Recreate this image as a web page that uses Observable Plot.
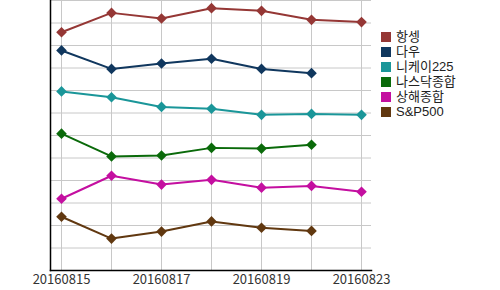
<!DOCTYPE html>
<html><head><meta charset="utf-8">
<script src="https://cdn.jsdelivr.net/npm/d3@7"></script>
<script src="https://cdn.jsdelivr.net/npm/@observablehq/plot@0.6"></script>
<style>
body{margin:0;background:#fff;font-family:"Noto Sans CJK KR","Noto Sans",sans-serif;}
#wrap{position:relative;width:500px;height:290px;}
#legend{position:absolute;left:381px;top:29px;font-size:13px;color:#222;line-height:15px;font-family:"Liberation Sans","Noto Sans CJK KR",sans-serif;}
#legend .it{display:flex;align-items:center;height:15px;}
#legend .sw{width:10px;height:10px;margin-right:5px;flex:none;}
#legend span{line-height:15px;display:inline-block;height:15px;}
</style></head>
<body><div id="wrap"><div id="chart"></div><div id="legend"></div></div>
<script>
const dates = ["20160815","20160816","20160817","20160818","20160819","20160822","20160823"];
const tickLabels = ["20160815","20160817","20160819","20160823"];
const seriesNames = ["항셍","다우","니케이225","나스닥종합","상해종합","S&P500"];
const colors = ["#953735","#10375E","#1A9699","#0A6A0A","#C40FA0","#613810"];
const hangseng = [10.59, 11.45, 11.2, 11.66, 11.54, 11.14, 11.04];
const dow = [9.78, 8.96, 9.2, 9.41, 8.96, 8.77];
const nikkei = [7.96, 7.70, 7.27, 7.19, 6.92, 6.96, 6.92];
const nasdaq = [6.08, 5.07, 5.11, 5.45, 5.42, 5.59];
const shanghai = [3.19, 4.21, 3.82, 4.03, 3.68, 3.76, 3.50];
const sp500 = [2.39, 1.42, 1.73, 2.18, 1.90, 1.76];
const yTicks = d3.range(0, 13);

const all = [hangseng, dow, nikkei, nasdaq, shanghai, sp500];
const data = [];
all.forEach((arr, si) => arr.forEach((v, i) => data.push({series: seriesNames[si], date: dates[i], value: v})));

const chart = Plot.plot({
  width: 500, height: 290,
  marginLeft: 50, marginRight: 129, marginTop: 0, marginBottom: 20,
  style: {fontFamily: "'Noto Sans CJK KR','Noto Sans',sans-serif", fontSize: "13px", color: "#333", background: "#fff"},
  x: {type: "point", domain: dates, padding: 0.21, label: null},
  y: {domain: [0, 12], label: null},
  color: {domain: seriesNames, range: colors},
  marks: [
    Plot.ruleY(yTicks, {stroke: "#c8c8c8", strokeWidth: 1}),
    Plot.ruleX(dates, {x: d => d, y1: 0, y2: 12, stroke: "#c8c8c8", strokeWidth: 1}),
    Plot.axisX(tickLabels, {tickSize: 0, tickPadding: 4, fontSize: 13, fill: "#333"}),
    Plot.axisY({ticks: [], tickSize: 0}),
    Plot.frame({anchor: "left", stroke: "#000", strokeWidth: 1.5}),
    Plot.frame({anchor: "bottom", stroke: "#000", strokeWidth: 1.5}),
    Plot.line(data, {x: "date", y: "value", z: "series", stroke: "series", strokeWidth: 2}),
    Plot.dot(data, {x: "date", y: "value", fill: "series", symbol: "diamond2", r: 4.8, stroke: "none"})
  ]
});
document.getElementById("chart").appendChild(chart);
const leg = document.getElementById("legend");
seriesNames.forEach((n, i) => {
  const it = document.createElement("div"); it.className = "it";
  const sw = document.createElement("div"); sw.className = "sw"; sw.style.background = colors[i];
  const t = document.createElement("span"); t.textContent = n;
  it.appendChild(sw); it.appendChild(t); leg.appendChild(it);
});
</script></body></html>
